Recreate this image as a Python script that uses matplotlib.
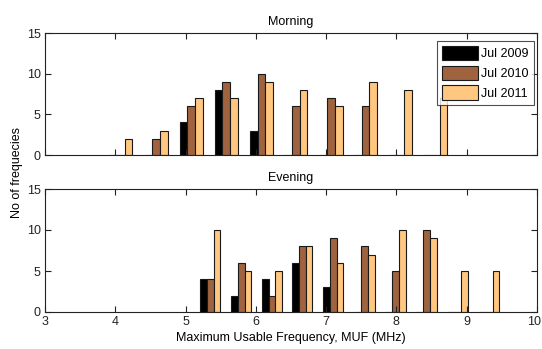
import matplotlib
matplotlib.use("Agg")
import matplotlib.pyplot as plt
import matplotlib.transforms as mtransforms
import numpy as np

plt.rcParams['font.family'] = ['Liberation Sans Narrow', 'Liberation Sans', 'DejaVu Sans']
plt.rcParams['font.size'] = 9

# Data
series_labels = ["Jul 2009", "Jul 2010", "Jul 2011"]
series_colors = ["#000000", "#9F643F", "#FFC77F"]

morning_centers = [4.08, 4.58, 5.08, 5.58, 6.08, 6.57, 7.07, 7.56, 8.06, 8.56]
morning_2009 = [0, 0, 4, 8, 3, 0, 0, 0, 0, 0]
morning_2010 = [0, 2, 6, 9, 10, 6, 7, 6, 0, 0]
morning_2011 = [2, 3, 7, 7, 9, 8, 6, 9, 8, 7]

evening_centers = [5.35, 5.79, 6.23, 6.66, 7.10, 7.55, 7.99, 8.43, 8.87, 9.32]
evening_2009 = [4, 2, 4, 6, 3, 0, 0, 0, 0, 0]
evening_2010 = [4, 6, 2, 8, 9, 8, 5, 10, 0, 0]
evening_2011 = [10, 5, 5, 8, 6, 7, 10, 9, 5, 5]

x_ticks = [3, 4, 5, 6, 7, 8, 9, 10]
y_ticks = [0, 5, 10, 15]

fig = plt.figure(figsize=(5.42, 3.49), dpi=100)
ax1 = fig.add_axes([45/542, 1-155/349, 492/542, 122/349])
ax2 = fig.add_axes([45/542, 1-312/349, 492/542, 123/349])


def draw(ax, centers, series, title, show_xlabels):
    c = np.array(centers)
    step = np.mean(np.diff(c))
    w = 0.22 * step
    for i, (vals, col, lab) in enumerate(zip(series, series_colors, series_labels)):
        ax.bar(c + (i - 1) * w, vals, width=w, color=col, edgecolor='#1a1a1a',
               linewidth=0.8, label=lab)
    ax.set_xlim(3, 10)
    ax.set_ylim(0, 15)
    ax.set_xticks(x_ticks)
    ax.set_yticks(y_ticks)
    ax.tick_params(direction='in', length=4, width=0.8, top=True, right=True,
                   labelsize=9, colors='#222222', pad=3)
    if not show_xlabels:
        ax.set_xticklabels([])
    for s in ax.spines.values():
        s.set_linewidth(0.8)
        s.set_color('#222222')
    ax.set_title(title, fontsize=9, pad=6)


draw(ax1, morning_centers, [morning_2009, morning_2010, morning_2011], "Morning", False)
draw(ax2, evening_centers, [evening_2009, evening_2010, evening_2011], "Evening", True)

# keep the last tick label inside the figure
last = ax2.get_xticklabels()[-1]
last.set_transform(last.get_transform() +
                   mtransforms.ScaledTranslation(-3/100, 0, fig.dpi_scale_trans))

leg = ax1.legend(loc='upper right', bbox_to_anchor=(0.993, 0.935), fontsize=9,
                 frameon=True, fancybox=False, edgecolor='#222222',
                 handlelength=2.9, handleheight=1.4, handletextpad=0.25,
                 borderpad=0.4, labelspacing=0.42, borderaxespad=0)
leg.get_frame().set_linewidth(0.8)

ax2.set_xlabel("Maximum Usable Frequency, MUF (MHz)", fontsize=9, labelpad=3)
fig.text(17/542, 1-172/349, "No of frequecies", rotation=90, ha='center', va='center', fontsize=9)

fig.savefig("out.png", dpi=100)
